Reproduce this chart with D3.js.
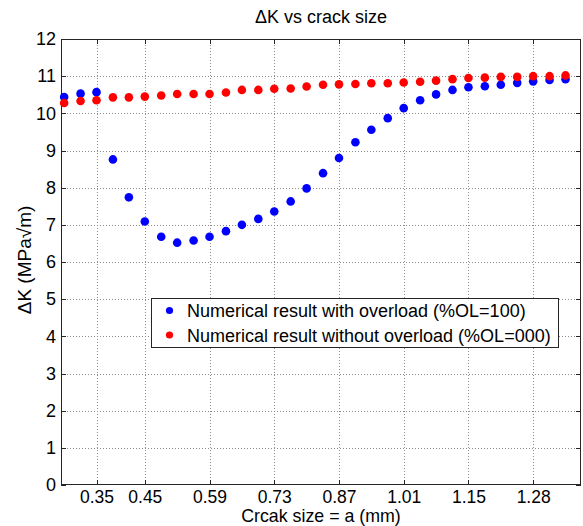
<!DOCTYPE html>
<html>
<head>
<meta charset="utf-8">
<script src="https://cdn.jsdelivr.net/npm/d3@7"></script>
<style>
  html, body { margin: 0; padding: 0; background: #fff; }
  svg { display: block; }
  text { font-family: "Liberation Sans", Arial, Helvetica, sans-serif; fill: #000; }
</style>
</head>
<body>
<svg id="chart" width="583" height="526"></svg>
<script>
// Crack size a (mm) at each computed step
const crackSize = [0.281, 0.316, 0.350, 0.385, 0.419, 0.453, 0.488, 0.522,
                   0.557, 0.591, 0.626, 0.660, 0.695, 0.729, 0.764, 0.798,
                   0.833, 0.867, 0.902, 0.936, 0.971, 1.005, 1.040, 1.074,
                   1.109, 1.143, 1.178, 1.212, 1.247, 1.281, 1.316, 1.350];

// Delta K (MPa*sqrt(m)) with a 100% overload
const withOverload = [10.44, 10.53, 10.57, 8.76, 7.74, 7.09, 6.68, 6.52,
                      6.58, 6.68, 6.83, 7.00, 7.16, 7.36, 7.63, 7.98,
                      8.39, 8.80, 9.22, 9.56, 9.87, 10.14, 10.35, 10.51,
                      10.63, 10.70, 10.73, 10.77, 10.82, 10.86, 10.90, 10.92];

// Delta K (MPa*sqrt(m)) without overload
const withoutOverload = [10.28, 10.33, 10.35, 10.43, 10.43, 10.45, 10.48, 10.52,
                         10.52, 10.52, 10.56, 10.63, 10.63, 10.66, 10.67, 10.72,
                         10.77, 10.78, 10.79, 10.81, 10.81, 10.83, 10.85, 10.88,
                         10.92, 10.95, 10.96, 10.98, 10.98, 11.00, 11.00, 11.02];

const xTickValues = [0.350, 0.453, 0.591, 0.729, 0.867, 1.005, 1.143, 1.281];
const xTickLabels = ["0.35", "0.45", "0.59", "0.73", "0.87", "1.01", "1.15", "1.28"];
const yTickValues = [0, 1, 2, 3, 4, 5, 6, 7, 8, 9, 10, 11, 12];

const seriesNames = ["Numerical result with overload (%OL=100)",
                     "Numerical result without overload (%OL=000)"];
const seriesColors = ["#0000ff", "#ff0000"];

const svg = d3.select("#chart");
const plotL = 61, plotR = 581, plotT = 39, plotB = 485;

const x = d3.scaleLinear().domain([0.2743, 1.383]).range([plotL, plotR]);
const y = d3.scaleLinear().domain([0, 12]).range([plotB, plotT]);

// grid
const grid = svg.append("g").attr("stroke", "#8c8c8c").attr("stroke-width", 1)
  .attr("stroke-dasharray", "1,2").attr("shape-rendering", "crispEdges");
grid.selectAll("line.gx").data(xTickValues).join("line")
  .attr("x1", d => Math.round(x(d)) + 0.5).attr("x2", d => Math.round(x(d)) + 0.5)
  .attr("y1", plotT).attr("y2", plotB);
grid.selectAll("line.gy").data(yTickValues.slice(1, -1)).join("line")
  .attr("y1", d => Math.round(y(d)) + 0.5).attr("y2", d => Math.round(y(d)) + 0.5)
  .attr("x1", plotL).attr("x2", plotR);

// axes with inward ticks on all four sides
const tickLen = 5;
const axisColor = "#262626";
function styleAxis(size) {
  return g => {
    g.select(".domain").remove();
    g.selectAll(".tick line").attr("stroke", axisColor).attr("shape-rendering", "crispEdges");
    g.selectAll(".tick text").attr("font-size", size)
      .attr("font-family", "'Liberation Sans', Arial, sans-serif").attr("fill", "#000");
  };
}
svg.append("g").attr("transform", `translate(0,${plotB})`)
  .call(d3.axisBottom(x).tickValues(xTickValues)
    .tickFormat((d, i) => xTickLabels[i]).tickSizeInner(-tickLen).tickPadding(6))
  .call(styleAxis(17.5));
svg.append("g").attr("transform", `translate(0,${plotT})`)
  .call(d3.axisTop(x).tickValues(xTickValues).tickFormat("").tickSizeInner(-tickLen))
  .call(styleAxis(17.5));
svg.append("g").attr("transform", `translate(${plotL},0)`)
  .call(d3.axisLeft(y).tickValues(yTickValues).tickFormat(d3.format("d"))
    .tickSizeInner(-tickLen).tickPadding(5))
  .call(styleAxis(18));
svg.append("g").attr("transform", `translate(${plotR},0)`)
  .call(d3.axisRight(y).tickValues(yTickValues).tickFormat("").tickSizeInner(-tickLen))
  .call(styleAxis(18));

// plot box
svg.append("rect").attr("x", plotL + 0.5).attr("y", plotT + 0.5)
  .attr("width", plotR - plotL - 1).attr("height", plotB - plotT - 1)
  .attr("fill", "none").attr("stroke", axisColor).attr("stroke-width", 1)
  .attr("shape-rendering", "crispEdges");

// points
const series = [withOverload, withoutOverload];
series.forEach((vals, s) => {
  svg.append("g").selectAll("circle").data(vals).join("circle")
    .attr("cx", (d, i) => x(crackSize[i]))
    .attr("cy", d => y(d))
    .attr("r", 4.3)
    .attr("fill", seriesColors[s]);
});

// titles
svg.append("text").attr("x", (plotL + plotR) / 2).attr("y", 23)
  .attr("text-anchor", "middle").attr("font-size", 18).text("ΔK vs crack size");
svg.append("text").attr("x", (plotL + plotR) / 2).attr("y", 522.3)
  .attr("text-anchor", "middle").attr("font-size", 17.8).text("Crcak size = a (mm)");
svg.append("text").attr("transform", `translate(31,${(plotT + plotB) / 2 - 2}) rotate(-90)`)
  .attr("text-anchor", "middle").attr("font-size", 19).text("ΔK (MPa√m)");

// legend
const lg = svg.append("g");
lg.append("rect").attr("x", 151.5).attr("y", 298.5).attr("width", 407).attr("height", 49)
  .attr("fill", "#fff").attr("stroke", axisColor).attr("stroke-width", 1)
  .attr("shape-rendering", "crispEdges");
seriesNames.forEach((name, s) => {
  const cy = 310.5 + s * 24.5;
  lg.append("circle").attr("cx", 169.5).attr("cy", cy).attr("r", 3.6).attr("fill", seriesColors[s]);
  lg.append("text").attr("x", 187).attr("y", cy + 6.5).attr("font-size", 18).text(name);
});
</script>
</body>
</html>
